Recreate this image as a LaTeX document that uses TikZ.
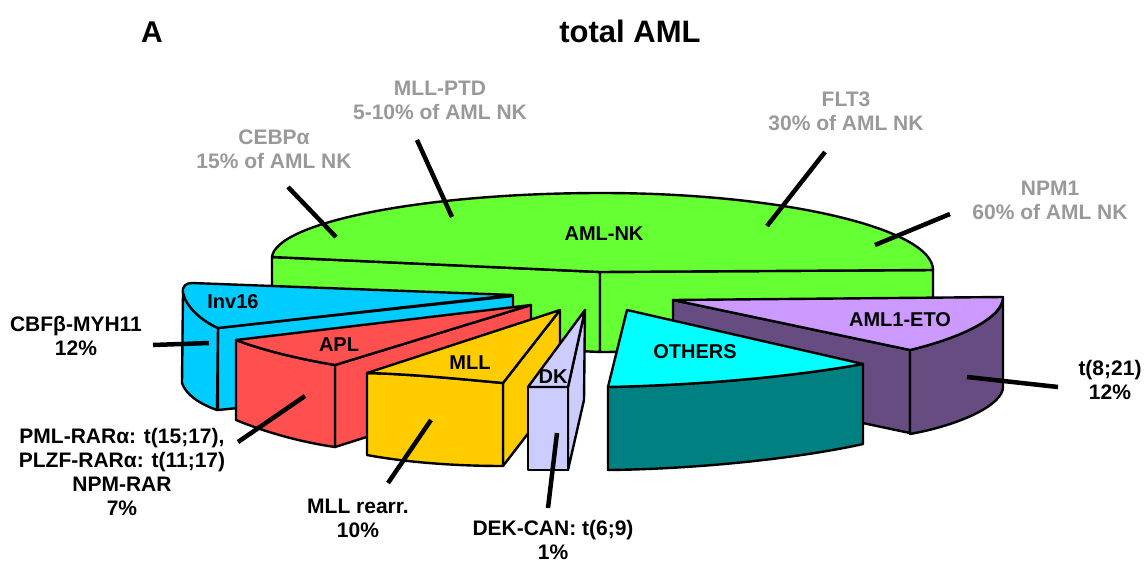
\documentclass[tikz,border=0pt]{standalone}
\usepackage{fontspec}
\setmainfont{Liberation Sans}
\usepackage{xcolor}
\usepackage{tikz}
\usetikzlibrary{calc}
\definecolor{nkgreen}{HTML}{66FF33}
\definecolor{invblue}{HTML}{00CCFF}
\definecolor{aplred}{HTML}{FF5050}
\definecolor{mllyellow}{HTML}{FFCC00}
\definecolor{dklav}{HTML}{CCCCFF}
\definecolor{othcyan}{HTML}{00FFFF}
\definecolor{othteal}{HTML}{008080}
\definecolor{etolight}{HTML}{CC99FF}
\definecolor{etodark}{HTML}{664C80}
\definecolor{mutgray}{HTML}{999999}

\begin{document}
\begin{tikzpicture}[x=1pt, y=-1pt,
    face/.style={draw=black, line width=2.4pt, line join=round},
    leader/.style={draw=black, line width=4.5pt},
    slicelbl/.style={font=\fontsize{20}{22}\selectfont\bfseries},
    outlbl/.style={font=\fontsize{21}{24}\selectfont\bfseries, align=center},
    mutlbl/.style={outlbl, text=mutgray}]

      \useasboundingbox (0,0) rectangle (1146,563);

      \node[font=\fontsize{30}{32}\selectfont\bfseries] (panel) at (152,32) {A};
      \node[font=\fontsize{31}{34}\selectfont\bfseries] (title) at (630,31) {total AML};

      % AML-NK
      \filldraw[face, fill=nkgreen] (272,257) -- (600,272) -- (600,352) -- (272,337) -- cycle;
      \filldraw[face, fill=nkgreen] (600,272) -- (933,270) -- (933,350) -- (600,352) -- cycle;
      \filldraw[face, fill=nkgreen] (272,257) .. controls (276,223) and (420,193) .. (602,193)
        .. controls (784,193) and (933,229) .. (933,270) -- (600,272) -- cycle;
      \node[slicelbl] (nk) at (604,234) {AML-NK};

      % AML1-ETO
      \filldraw[face, fill=etodark] (673,300) -- (910,350) -- (910,433) -- (673,383) -- cycle;
      \filldraw[face, fill=etodark] (910,350) .. controls (960,338) and (1003,318) .. (1003,298)
        -- (1003,387) .. controls (1003,405) and (960,425) .. (910,434) -- cycle;
      \filldraw[face, fill=etolight] (673,300) -- (1003,297) .. controls (1003,318) and (960,338) .. (910,350) -- cycle;
      \node[slicelbl] (eto) at (900,320) {AML1-ETO};

      % Inv16
      \filldraw[face, fill=invblue] (218,328) -- (513,296) -- (513,380) -- (218,410) -- cycle;
      \filldraw[face, fill=invblue] (183,293) -- (182,383) .. controls (186,395) and (200,404) .. (217,410)
        -- (218,328) .. controls (200,320) and (186,306) .. (183,293) -- cycle;
      \filldraw[face, fill=invblue] (183,293) .. controls (182,286) and (186,283) .. (192,283)
        -- (513,295) -- (218,328) .. controls (200,320) and (186,306) .. (183,293) -- cycle;
      \node[slicelbl] (inv) at (233,302) {Inv16};

      % APL
      \filldraw[face, fill=aplred] (335,365) -- (531,305) -- (531,385) -- (335,447) -- cycle;
      \filldraw[face, fill=aplred] (236,340) -- (236,420) .. controls (265,432) and (300,442) .. (335,447)
        -- (335,365) .. controls (300,359) and (265,351) .. (236,340) -- cycle;
      \filldraw[face, fill=aplred] (236,340) -- (531,305) -- (335,365) .. controls (300,359) and (265,351) .. (236,340) -- cycle;
      \node[slicelbl] (apl) at (339,345) {APL};

      % MLL
      \filldraw[face, fill=mllyellow] (503,383) -- (560,310) -- (560,392) -- (503,466) -- cycle;
      \filldraw[face, fill=mllyellow] (367,373) -- (367,455) .. controls (410,463) and (460,466) .. (503,466)
        -- (503,383) .. controls (460,379) and (410,374) .. (367,373) -- cycle;
      \filldraw[face, fill=mllyellow] (367,373) -- (560,310) -- (503,383) .. controls (460,379) and (410,374) .. (367,373) -- cycle;
      \node[slicelbl] (mll) at (470,363) {MLL};

      % DK
      \filldraw[face, fill=dklav] (568,387) -- (585,310) -- (584,400) -- (568,470) -- cycle;
      \filldraw[face, fill=dklav] (528,387) -- (568,387) -- (568,470) -- (528,470) -- cycle;
      \filldraw[face, fill=dklav] (528,387) -- (585,310) -- (568,387) -- cycle;
      \node[slicelbl] (dk) at (553,377) {DK};

      % OTHERS
      \filldraw[face, fill=othteal] (608,387) .. controls (700,385) and (790,377) .. (863,364) -- (863,444)
        .. controls (800,458) and (700,469) .. (608,470) -- cycle;
      \filldraw[face, fill=othcyan] (627,310) -- (863,364) .. controls (790,377) and (700,385) .. (608,387) -- cycle;
      \node[slicelbl] (oth) at (695,352) {OTHERS};

      \node[mutlbl] (cebpa) at (274,149) {CEBPα\\15\% of AML NK};
      \node[mutlbl] (mllptd) at (440,100) {MLL-PTD\\5-10\% of AML NK};
      \node[mutlbl] (flt) at (846,111) {FLT3\\30\% of AML NK};
      \node[mutlbl] (npm) at (1050,200) {NPM1\\60\% of AML NK};

      \node[outlbl] (cbfb) at (76,336) {CBFβ-MYH11\\12\%};
      \node[outlbl] (pml) at (122,472) {PML-RARα: t(15;17),\\PLZF-RARα: t(11;17)\\NPM-RAR\\7\%};
      \node[outlbl] (rearr) at (358,518) {MLL rearr.\\10\%};
      \node[outlbl] (dekcan) at (553,540) {DEK-CAN: t(6;9)\\1\%};
      \node[outlbl] (trans) at (1110,380) {t(8;21)\\12\%};

      \coordinate (cebpa-a) at (288,187);   \coordinate (cebpa-b) at (336,237);
      \coordinate (mllptd-a) at (417,140);  \coordinate (mllptd-b) at (452,217);
      \coordinate (flt-a) at (825,152);     \coordinate (flt-b) at (767,226);
      \coordinate (npm-a) at (950,214);     \coordinate (npm-b) at (875,245);
      \coordinate (cbfb-a) at (153,345);    \coordinate (cbfb-b) at (209,343);
      \coordinate (pml-a) at (238,442);     \coordinate (pml-b) at (305,396);
      \coordinate (rearr-a) at (388,483);   \coordinate (rearr-b) at (431,420);
      \coordinate (dekcan-a) at (548,508);  \coordinate (dekcan-b) at (557,433);
      \coordinate (trans-a) at (1058,387);  \coordinate (trans-b) at (967,377);

      \foreach \lbl in {cebpa,mllptd,flt,npm,cbfb,pml,rearr,dekcan,trans}{
        \draw[leader] (\lbl-a) -- (\lbl-b);
      }

    \end{tikzpicture}
\end{document}
